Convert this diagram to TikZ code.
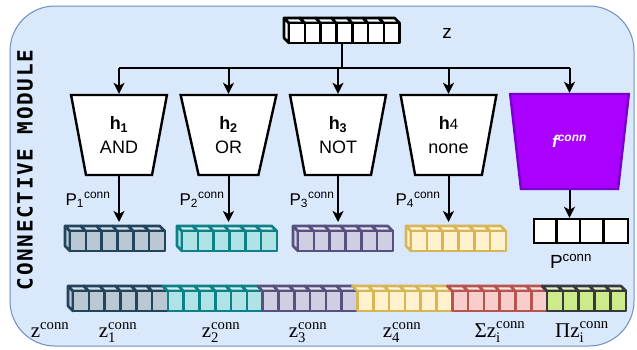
\documentclass[tikz,border=0pt]{standalone}
\usepackage{fontspec}
\usepackage{amsmath}
\setmainfont{Liberation Serif}
\setsansfont{Liberation Sans}
\newfontfamily\titlefont[LetterSpace=8]{DejaVu Sans Mono}
\usetikzlibrary{shapes.geometric,arrows.meta,positioning}
\definecolor{modfill}{HTML}{DAE8FC}
\definecolor{modline}{HTML}{6C8EBF}
\definecolor{c1fill}{HTML}{BAC8D3}
\definecolor{c1line}{HTML}{23445D}
\definecolor{c2fill}{HTML}{B0E3E6}
\definecolor{c2line}{HTML}{0E8088}
\definecolor{c3fill}{HTML}{D0CEE2}
\definecolor{c3line}{HTML}{56517E}
\definecolor{c4fill}{HTML}{FFF2CC}
\definecolor{c4line}{HTML}{D6B656}
\definecolor{c5fill}{HTML}{F8CECC}
\definecolor{c5line}{HTML}{B85450}
\definecolor{c6fill}{HTML}{CDEB8B}
\definecolor{c6line}{HTML}{36393D}
\definecolor{fcfill}{HTML}{AA00FF}
\definecolor{fcline}{HTML}{7700CC}

\begin{document}
\begin{tikzpicture}[x=1pt, y=-1pt, font=\sffamily,
  hbox/.style={draw, line width=2.4pt, fill=white, trapezium, shape border rotate=180,
    trapezium stretches=true, trapezium angle=77, minimum width=96, minimum height=80,
    align=center, font=\sffamily\fontsize{18}{24}\selectfont},
  arr/.style={-{Stealth[length=11pt,width=11pt,inset=3pt]}, line width=2pt}]

 \useasboundingbox (0,0) rectangle (637,349);

 %module
 \draw[fill=modfill, draw=modline, line width=1pt, rounded corners=45pt] (10,6) rectangle (634,346);
 \node[rotate=90, font=\titlefont\bfseries\fontsize{21}{21}\selectfont] (title) at (25,170) {CONNECTIVE MODULE};

 %cube vectors
 \def\w{15.8};
 \def\h{20};
 \def\d{5};
    \foreach \name/\x/\y/\n/\fc/\dc/\side in {zvec/289/23/7/white/black/1,
        p1/70/231/6/c1fill/c1line/1, p2/182/231/6/c2fill/c2line/1,
        p3/298/231/6/c3fill/c3line/1, p4/411/231/6/c4fill/c4line/1,
        zc1/73/291/6/c1fill/c1line/1, zc2/167.8/291/6/c2fill/c2line/0,
        zc3/262.6/291/6/c3fill/c3line/0, zc4/357.4/291/6/c4fill/c4line/0,
        zc5/452.2/291/6/c5fill/c5line/0, zc6/547/291/5/c6fill/c6line/0}{
        \ifnum\side=1
          \filldraw[fill=\fc, draw=\dc, line width=2.6pt, line join=round] (\x,\y) -- (\x,\y+\h) -- (\x-\d,\y+\h-\d) -- (\x-\d,\y-\d) -- cycle;
        \fi
        \foreach \i in {1,...,\n}{
          \filldraw[fill=\fc!55!white, draw=\dc, line width=2.6pt, line join=round] ({\x+(\i-1)*\w},\y) -- ++(\w,0) -- ++(-\d,-\d) -- ++(-\w,0) -- cycle;
          \filldraw[fill=\fc, draw=\dc, line width=2.6pt, line join=round] ({\x+(\i-1)*\w},\y) rectangle ++(\w,\h);
        }
        \node[inner sep=0, outer sep=0, minimum width={\n*\w+\d}, minimum height={\h+\d}] (\name) at ({\x+\n*\w/2-\d/2},{\y+(\h-\d)/2}) {};
    }

 \node[font=\sffamily\fontsize{19}{19}\selectfont] (zlab) at (447,33) {z};

 %heads
 \node[hbox] (h1) at (119,135) {\textbf{h\textsubscript{1}}\\AND};
 \node[hbox] (h2) at (228.5,135) {\textbf{h\textsubscript{2}}\\OR};
 \node[hbox] (h3) at (338,135) {\textbf{h\textsubscript{3}}\\NOT};
 \node[hbox] (h4) at (448.5,135) {\textbf{h}{\fontsize{15}{15}\selectfont 4}\\none};
 \node[hbox, fill=fcfill, draw=fcline, text=white, trapezium angle=76.7, minimum width=119, minimum height=95,
   font=\sffamily\bfseries\itshape\fontsize{17}{17}\selectfont] (fconn) at (569.5,141.5) {f\textsuperscript{conn}};

 \node[draw, line width=2.4pt, fill=white, inner sep=0, minimum width=94, minimum height=24] (pconn) at (581,231) {};
    \foreach \i in {1,2,3}{
      \draw[line width=2.4pt] ([xshift=\i*23.5pt]pconn.north west) -- ([xshift=\i*23.5pt]pconn.south west);
    }
 \node[anchor=base, font=\sffamily\fontsize{19}{19}\selectfont] (pclab) at (571,268) {P\textsuperscript{conn}};

 %arrows
 \draw[line width=2pt] (zvec.south) -- ++(0,25) coordinate (split);
 \draw[line width=2pt] (split -| h1.north) -- (split -| fconn.north);
    \foreach \t in {h1,h2,h3,h4,fconn}{
      \draw[arr] (split -| \t.north) -- (\t.north);
    }
    \foreach \t/\v in {h1/p1,h2/p2,h3/p3,h4/p4}{
      \draw[arr, shorten >=4pt] (\t.south) -- (\t.south |- \v.north);
    }
 \draw[arr] (fconn.south) -- (fconn.south |- pconn.north);

 %labels
    \foreach \i/\x in {1/88,2/202,3/312,4/418}{
      \node[anchor=base, font=\sffamily\fontsize{17}{17}\selectfont] (plab\i) at (\x,205) {P\textsubscript{\i}\textsuperscript{conn}};
    }
    \foreach \name/\x/\txt in {zl0/50/{\text{z}^{\text{conn}}}, zl1/118/{\text{z}^{\text{conn}}_{\text{1}}},
        zl2/221/{\text{z}^{\text{conn}}_{\text{2}}}, zl3/308/{\text{z}^{\text{conn}}_{\text{3}}},
        zl4/402/{\text{z}^{\text{conn}}_{\text{4}}}, zl5/500/{\text{Σz}^{\text{conn}}_{\text{i}}},
        zl6/582/{\text{Πz}^{\text{conn}}_{\text{i}}}}{
      \node[anchor=base, inner sep=1pt, font=\rmfamily\fontsize{21}{21}\selectfont] (\name) at (\x,337) {$\txt$};
    }

\end{tikzpicture}
\end{document}
